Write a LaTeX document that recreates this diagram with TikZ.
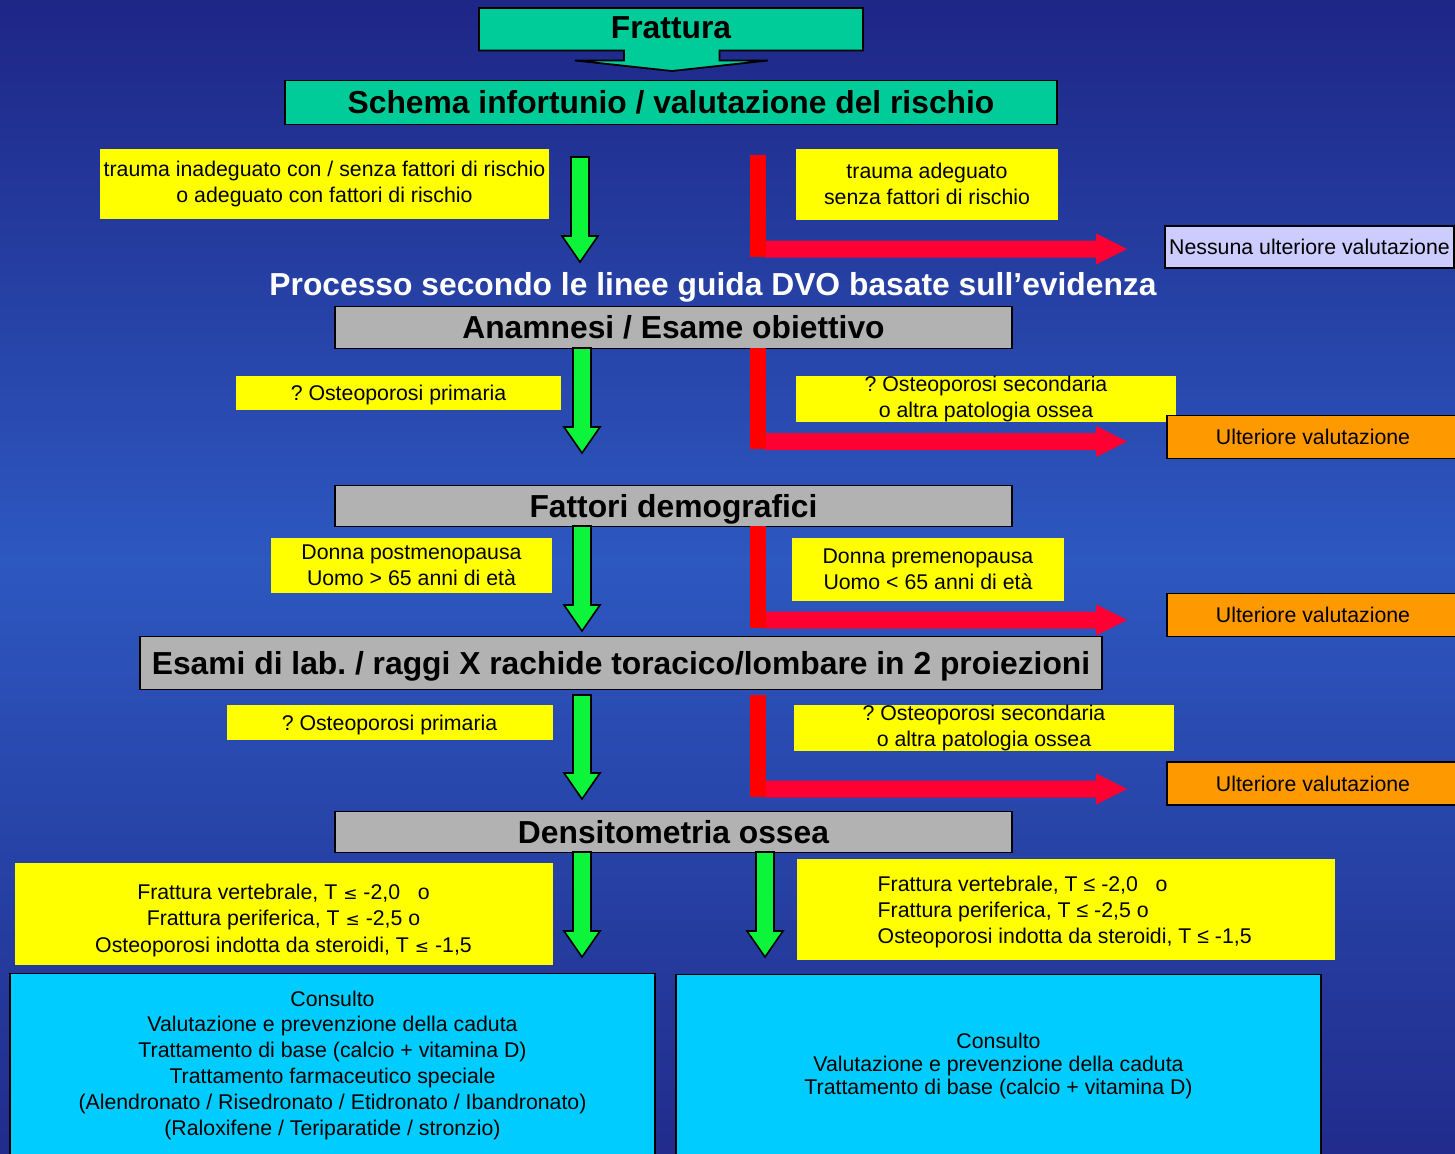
\documentclass[tikz,border=0pt]{standalone}
\usepackage{fontspec}
\setmainfont{Liberation Sans}
\newfontfamily\symfont{DejaVu Sans}
\usetikzlibrary{calc}
\frenchspacing

\definecolor{bgtop}{RGB}{30,38,134}
\definecolor{bgmid}{RGB}{45,88,192}
\definecolor{bgbot}{RGB}{33,44,140}
\definecolor{headteal}{RGB}{0,204,153}
\definecolor{noteyellow}{RGB}{255,255,0}
\definecolor{arrowgreen}{RGB}{12,245,58}
\definecolor{barred}{RGB}{255,0,0}
\definecolor{arrowred}{RGB}{255,0,51}
\definecolor{lavenderbox}{RGB}{204,204,255}
\definecolor{stepgray}{RGB}{178,178,178}
\definecolor{orangebox}{RGB}{255,153,0}
\definecolor{cyanbox}{RGB}{0,204,255}

\newcommand\bigfont{\fontsize{31.8}{36}\selectfont\bfseries}
\newcommand\smallfont{\fontsize{21.3}{26}\selectfont}
\newcommand\lesym{{\symfont\fontsize{17}{20}\selectfont ≤}}

% block arrow pointing down: #1 top centre, #2 tip
\newcommand\greendown[2]{%
  \draw[greenarrow] let \p1=(#1), \p2=(#2) in
    (\x1-9pt,\y1) -- (\x1+9pt,\y1) -- (\x1+9pt,\y2+26pt) -- (\x1+18pt,\y2+26pt)
    -- (\x2,\y2) -- (\x1-18pt,\y2+26pt) -- (\x1-9pt,\y2+26pt) -- cycle;}

% red bar going down, then an arrow to the right: #1 top, #2 foot, #3 tip
\newcommand\redturn[3]{%
  \fill[arrowred] let \p1=(#2), \p2=(#3) in
    (\x1+7pt,\y2-8.5pt) -- (\x2-31pt,\y2-8.5pt) -- (\x2-31pt,\y2-15.5pt)
    -- (\x2,\y2) -- (\x2-31pt,\y2+15.5pt) -- (\x2-31pt,\y2+8.5pt)
    -- (\x1+7pt,\y2+8.5pt) -- cycle;
  \fill[barred] ($(#1)+(-8,0)$) rectangle ($(#2)+(8,0)$);}

\tikzset{
  boxline/.style={draw=black, line width=1.8pt},
  captext/.style={font=\bigfont, text height=22.8, text depth=0},
  smallcap/.style={font=\smallfont, text height=15.3, text depth=0},
  headbox/.style={boxline, fill=headteal, inner sep=0pt, captext},
  stepbox/.style={boxline, fill=stepgray, inner sep=0pt, captext},
  notebox/.style={fill=noteyellow, inner sep=0pt, align=center, font=\smallfont},
  onelinenote/.style={fill=noteyellow, inner sep=0pt, smallcap},
  notefill/.style={fill=noteyellow, inner sep=0pt},
  furtherbox/.style={boxline, fill=orangebox, inner sep=0pt, smallcap,
    minimum width=292, minimum height=43},
  endbox/.style={boxline, fill=cyanbox, inner sep=0pt, align=center},
  greenarrow/.style={fill=arrowgreen, draw=black, line width=1.6pt, line join=miter},
}

\begin{document}
\begin{tikzpicture}[x=1pt, y=-1pt]
% background
\useasboundingbox (0,0) rectangle (1455,1153);
\clip (0,0) rectangle (1455,1153);
\shade[top color=bgtop, bottom color=bgmid] (0,0) rectangle (1455,560.5);
\shade[top color=bgmid, bottom color=bgbot] (0,560) rectangle (1455,1153);

% start: fracture callout
\draw[boxline, fill=headteal, line join=miter]
  (479,8) -- (863,8) -- (863,50.5) -- (719.5,50.5) -- (719.5,60.5) -- (768,60.5)
  -- (672,71) -- (575,60.5) -- (624,60.5) -- (624,50.5) -- (479,50.5) -- cycle;
\node[captext, inner sep=0pt] (frattura) at (671,27.5) {Frattura};

\node[headbox, minimum width=772, minimum height=44] (schema) at (671,102.5)
  {Schema infortunio / valutazione del rischio};

% first decision
\node[notebox, minimum width=449, minimum height=70] (inad) at (324.5,184)
  {trauma inadeguato con / senza fattori di rischio\\o adeguato con fattori di rischio};
\node[notebox, minimum width=262, minimum height=71] (adeg) at (927,184)
  {trauma adeguato\\senza fattori di rischio};
\node[boxline, fill=lavenderbox, inner sep=0pt, smallcap,
  minimum width=289, minimum height=42] (nessuna) at (1309.5,247)
  {Nessuna ulteriore valutazione};

\coordinate (g1s) at (580,157);  \coordinate (g1e) at (580,262);
\greendown{g1s}{g1e}
\coordinate (r1s) at (758,155);  \coordinate (r1f) at (758,257);
\coordinate (r1e) at ($(nessuna.west)+(-37,2)$);
\redturn{r1s}{r1f}{r1e}

\node[text=white, captext, inner sep=0pt] (processo) at (713,284)
  {Processo secondo le linee guida DVO basate sull’evidenza};

% history / examination
\node[stepbox, minimum width=677, minimum height=42] (anamnesi) at (673.5,327.5)
  {Anamnesi / Esame obiettivo};
\node[onelinenote, minimum width=325, minimum height=34] (prim1) at (398.5,392.5)
  {? Osteoporosi primaria};
\node[notebox, minimum width=380, minimum height=46] (sec1) at (986,398.5)
  {? Osteoporosi secondaria\\o altra patologia ossea};
\node[furtherbox] (ult1) at (1313,437) {Ulteriore valutazione};

\coordinate (g2s) at (582,348);  \coordinate (g2e) at (582,453);
\greendown{g2s}{g2e}
\coordinate (r2s) at (758,348);  \coordinate (r2f) at (758,449);
\coordinate (r2e) at ($(ult1.west)+(-39,4.5)$);
\redturn{r2s}{r2f}{r2e}

% demographic factors
\node[stepbox, minimum width=677, minimum height=41] (demo) at (673.5,506)
  {Fattori demografici};
\node[notebox, minimum width=281, minimum height=55] (post) at (411.5,565)
  {Donna postmenopausa\\Uomo > 65 anni di età};
\node[notebox, minimum width=272, minimum height=63] (pre) at (928,569)
  {Donna premenopausa\\Uomo < 65 anni di età};
\node[furtherbox] (ult2) at (1313,615) {Ulteriore valutazione};

\coordinate (g3s) at (582,526);  \coordinate (g3e) at (582,631);
\greendown{g3s}{g3e}
\coordinate (r3s) at (758,526);  \coordinate (r3f) at (758,628);
\coordinate (r3e) at ($(ult2.west)+(-39,5)$);
\redturn{r3s}{r3f}{r3e}

% laboratory / X-ray
\node[stepbox, minimum width=962, minimum height=53] (esami) at (621,663)
  {Esami di lab. / raggi X rachide toracico/lombare in 2 proiezioni};
\node[onelinenote, minimum width=326, minimum height=35] (prim2) at (389.5,722.5)
  {? Osteoporosi primaria};
\node[notebox, minimum width=380, minimum height=45] (sec2) at (984,728)
  {? Osteoporosi secondaria\\o altra patologia ossea};
\node[furtherbox] (ult3) at (1313,783.5) {Ulteriore valutazione};

\coordinate (g4s) at (582,695);  \coordinate (g4e) at (582,799);
\greendown{g4s}{g4e}
\coordinate (r4s) at (758,695);  \coordinate (r4f) at (758,797);
\coordinate (r4e) at ($(ult3.west)+(-39,5.5)$);
\redturn{r4s}{r4f}{r4e}

% bone densitometry
\node[stepbox, minimum width=677, minimum height=41] (dens) at (673.5,832)
  {Densitometria ossea};
\node[notefill, minimum width=538, minimum height=102] (critL) at (284,914) {};
\node[align=center, inner sep=0pt, font=\fontsize{21.3}{26.5}\selectfont] (critLtext)
  at (283.5,920)
  {Frattura vertebrale, T \lesym\ -2,0~~ o\\Frattura periferica, T \lesym\ -2,5 o\\Osteoporosi indotta da steroidi, T \lesym\ -1,5};
\node[notefill, minimum width=538, minimum height=101] (critR) at (1066,909.5) {};
\node[anchor=west, align=left, inner sep=0pt, font=\smallfont] (critRtext) at (877.5,912)
  {Frattura vertebrale, T ≤ -2,0~~ o\\Frattura periferica, T ≤ -2,5 o\\Osteoporosi indotta da steroidi, T ≤ -1,5};

\coordinate (g5s) at (582,852);  \coordinate (g5e) at (582,957);
\greendown{g5s}{g5e}
\coordinate (g6s) at (765,852);  \coordinate (g6e) at (765,957);
\greendown{g6s}{g6e}

% outcomes
\node[endbox, minimum width=645, minimum height=183,
  font=\fontsize{21.3}{25.8}\selectfont] (treat) at (332.5,1065)
  {Consulto\\Valutazione e prevenzione della caduta\\Trattamento di base (calcio + vitamina D)\\Trattamento farmaceutico speciale\\(Alendronato / Risedronato / Etidronato / Ibandronato)\\(Raloxifene / Teriparatide / stronzio)};
\node[endbox, minimum width=645, minimum height=183,
  font=\fontsize{21.3}{22.7}\selectfont] (basic) at (998.5,1066)
  {Consulto\\Valutazione e prevenzione della caduta\\Trattamento di base (calcio + vitamina D)};
\end{tikzpicture}
\end{document}
